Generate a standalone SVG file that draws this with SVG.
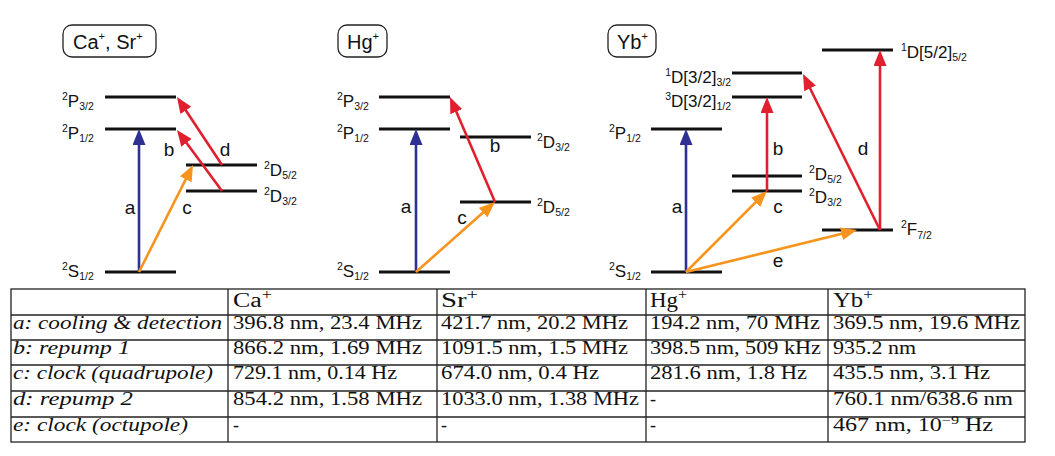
<svg xmlns="http://www.w3.org/2000/svg" width="1055" height="456" viewBox="0 0 1055 456">
<style>
.lvl{stroke:#111;stroke-width:3;fill:none}
.box{fill:none;stroke:#222;stroke-width:1.3}
.title{font-family:"Liberation Sans",Arial,sans-serif;font-size:20px;fill:#111}
.lab{font-family:"Liberation Sans",Arial,sans-serif;font-size:17px;fill:#111}
.s{font-size:10.5px}
.tr{font-family:"Liberation Sans",Arial,sans-serif;font-size:19px;fill:#111;text-anchor:middle}
.blue{stroke:#2e3192;stroke-width:2.6;fill:none;marker-end:url(#mb)}
.red{stroke:#e0202e;stroke-width:2.6;fill:none;marker-end:url(#mr)}
.org{stroke:#f7941d;stroke-width:2.6;fill:none;marker-end:url(#mo)}
.grid{stroke:#222;stroke-width:1.3;fill:none}
.tt{font-family:"Liberation Serif","Times New Roman",serif;font-size:18px;fill:#111}
.hd{font-size:20px}
.it{font-style:italic}
</style>
<defs>
<marker id="mb" viewBox="0 0 16 13" refX="11" refY="6.5" markerWidth="16" markerHeight="13" markerUnits="userSpaceOnUse" orient="auto"><path d="M0,0 L16,6.5 L0,13 z" fill="#2e3192"/></marker>
<marker id="mr" viewBox="0 0 16 13" refX="11" refY="6.5" markerWidth="16" markerHeight="13" markerUnits="userSpaceOnUse" orient="auto"><path d="M0,0 L16,6.5 L0,13 z" fill="#e0202e"/></marker>
<marker id="mo" viewBox="0 0 16 13" refX="11" refY="6.5" markerWidth="16" markerHeight="13" markerUnits="userSpaceOnUse" orient="auto"><path d="M0,0 L16,6.5 L0,13 z" fill="#f7941d"/></marker>
</defs>
<rect width="1055" height="456" fill="#fff"/>

<!-- Ca+, Sr+ -->
<g id="ca-title"><rect class="box" x="63" y="25" width="93" height="32" rx="9"/><text class="title" x="73" y="49">Ca<tspan font-size="11" dy="-9">+</tspan><tspan dy="9">, Sr</tspan><tspan font-size="11" dy="-9">+</tspan></text></g>
<g id="ca-P32"><line class="lvl" x1="105" y1="97" x2="176" y2="97"/><text class="lab" x="62" y="107"><tspan class="s" dy="-7">2</tspan><tspan dy="7">P</tspan><tspan class="s" dy="3">3/2</tspan></text></g>
<g id="ca-P12"><line class="lvl" x1="105" y1="129" x2="176" y2="129"/><text class="lab" x="62" y="139"><tspan class="s" dy="-7">2</tspan><tspan dy="7">P</tspan><tspan class="s" dy="3">1/2</tspan></text></g>
<g id="ca-D52"><line class="lvl" x1="186" y1="165" x2="257" y2="165"/><text class="lab" x="264" y="176"><tspan class="s" dy="-7">2</tspan><tspan dy="7">D</tspan><tspan class="s" dy="3">5/2</tspan></text></g>
<g id="ca-D32"><line class="lvl" x1="186" y1="191" x2="257" y2="191"/><text class="lab" x="264" y="202"><tspan class="s" dy="-7">2</tspan><tspan dy="7">D</tspan><tspan class="s" dy="3">3/2</tspan></text></g>
<g id="ca-S12"><line class="lvl" x1="105" y1="272" x2="176" y2="272"/><text class="lab" x="62" y="277"><tspan class="s" dy="-7">2</tspan><tspan dy="7">S</tspan><tspan class="s" dy="3">1/2</tspan></text></g>

<!-- Hg+ -->
<g id="hg-title"><rect class="box" x="338" y="25" width="49" height="32" rx="9"/><text class="title" x="347" y="49">Hg<tspan font-size="11" dy="-9">+</tspan></text></g>
<g id="hg-P32"><line class="lvl" x1="379" y1="97" x2="450" y2="97"/><text class="lab" x="337" y="107"><tspan class="s" dy="-7">2</tspan><tspan dy="7">P</tspan><tspan class="s" dy="3">3/2</tspan></text></g>
<g id="hg-P12"><line class="lvl" x1="379" y1="129" x2="450" y2="129"/><text class="lab" x="337" y="139"><tspan class="s" dy="-7">2</tspan><tspan dy="7">P</tspan><tspan class="s" dy="3">1/2</tspan></text></g>
<g id="hg-D32"><line class="lvl" x1="460" y1="137" x2="531" y2="137"/><text class="lab" x="537" y="148"><tspan class="s" dy="-7">2</tspan><tspan dy="7">D</tspan><tspan class="s" dy="3">3/2</tspan></text></g>
<g id="hg-D52"><line class="lvl" x1="460" y1="202" x2="531" y2="202"/><text class="lab" x="537" y="213"><tspan class="s" dy="-7">2</tspan><tspan dy="7">D</tspan><tspan class="s" dy="3">5/2</tspan></text></g>
<g id="hg-S12"><line class="lvl" x1="379" y1="272" x2="450" y2="272"/><text class="lab" x="337" y="277"><tspan class="s" dy="-7">2</tspan><tspan dy="7">S</tspan><tspan class="s" dy="3">1/2</tspan></text></g>

<!-- Yb+ -->
<g id="yb-title"><rect class="box" x="608" y="25" width="48" height="32" rx="9"/><text class="title" x="617" y="49">Yb<tspan font-size="11" dy="-9">+</tspan></text></g>
<g id="yb-P12"><line class="lvl" x1="651" y1="129" x2="722" y2="129"/><text class="lab" x="609" y="139"><tspan class="s" dy="-7">2</tspan><tspan dy="7">P</tspan><tspan class="s" dy="3">1/2</tspan></text></g>
<g id="yb-S12"><line class="lvl" x1="651" y1="272" x2="722" y2="272"/><text class="lab" x="609" y="277"><tspan class="s" dy="-7">2</tspan><tspan dy="7">S</tspan><tspan class="s" dy="3">1/2</tspan></text></g>
<g id="yb-1D32"><line class="lvl" x1="732" y1="73" x2="802" y2="73"/><text class="lab" x="731" y="83" text-anchor="end"><tspan class="s" dy="-7">1</tspan><tspan dy="7">D[3/2]</tspan><tspan class="s" dy="3">3/2</tspan></text></g>
<g id="yb-3D32"><line class="lvl" x1="732" y1="97" x2="802" y2="97"/><text class="lab" x="731" y="107" text-anchor="end"><tspan class="s" dy="-7">3</tspan><tspan dy="7">D[3/2]</tspan><tspan class="s" dy="3">1/2</tspan></text></g>
<g id="yb-D52"><line class="lvl" x1="732" y1="176" x2="802" y2="176"/><text class="lab" x="809" y="180"><tspan class="s" dy="-7">2</tspan><tspan dy="7">D</tspan><tspan class="s" dy="3">5/2</tspan></text></g>
<g id="yb-D32"><line class="lvl" x1="732" y1="191" x2="802" y2="191"/><text class="lab" x="809" y="203"><tspan class="s" dy="-7">2</tspan><tspan dy="7">D</tspan><tspan class="s" dy="3">3/2</tspan></text></g>
<g id="yb-F72"><line class="lvl" x1="822" y1="230" x2="893" y2="230"/><text class="lab" x="901" y="235"><tspan class="s" dy="-7">2</tspan><tspan dy="7">F</tspan><tspan class="s" dy="4">7/2</tspan></text></g>
<g id="yb-1D52"><line class="lvl" x1="822" y1="50" x2="893" y2="50"/><text class="lab" x="901" y="58"><tspan class="s" dy="-7">1</tspan><tspan dy="7">D[5/2]</tspan><tspan class="s" dy="3">5/2</tspan></text></g>

<!-- connectors -->
<g id="connectors">
<line class="blue" x1="139" y1="272" x2="139" y2="134"/>
<line class="org" x1="139" y1="272" x2="190.75" y2="169.46"/>
<line class="red" x1="222" y1="191" x2="179.97" y2="134.02"/>
<line class="red" x1="222" y1="165" x2="179.76" y2="101.17"/>
<text class="tr" x="130" y="214">a</text>
<text class="tr" x="169" y="156">b</text>
<text class="tr" x="187" y="214">c</text>
<text class="tr" x="225" y="156">d</text>

<line class="blue" x1="416" y1="272" x2="416" y2="134"/>
<line class="org" x1="416" y1="272" x2="491.26" y2="205.31"/>
<line class="red" x1="495" y1="202" x2="451.97" y2="101.6"/>
<text class="tr" x="406" y="213">a</text>
<text class="tr" x="462" y="224">c</text>
<text class="tr" x="495" y="152">b</text>

<line class="blue" x1="686" y1="272" x2="686" y2="134"/>
<line class="org" x1="686" y1="272" x2="763.46" y2="194.54"/>
<line class="org" x1="686" y1="272" x2="852.15" y2="231.19"/>
<line class="red" x1="767" y1="191" x2="767" y2="102"/>
<line class="red" x1="880" y1="230" x2="805.21" y2="78.48"/>
<line class="red" x1="880" y1="230" x2="880" y2="55"/>
<text class="tr" x="677" y="213">a</text>
<text class="tr" x="778" y="155">b</text>
<text class="tr" x="778" y="213">c</text>
<text class="tr" x="863" y="155">d</text>
<text class="tr" x="778" y="267">e</text>
</g>

<!-- table -->
<g id="table">
<rect class="grid" x="11" y="289" width="1014" height="153"/>
<line class="grid" x1="11" y1="315" x2="1025" y2="315"/>
<line class="grid" x1="11" y1="340" x2="1025" y2="340"/>
<line class="grid" x1="11" y1="365" x2="1025" y2="365"/>
<line class="grid" x1="11" y1="391" x2="1025" y2="391"/>
<line class="grid" x1="11" y1="417" x2="1025" y2="417"/>
<line class="grid" x1="228" y1="289" x2="228" y2="442"/>
<line class="grid" x1="437" y1="289" x2="437" y2="442"/>
<line class="grid" x1="646" y1="289" x2="646" y2="442"/>
<line class="grid" x1="828" y1="289" x2="828" y2="442"/>

<text class="tt hd" x="233" y="307" textLength="39" lengthAdjust="spacingAndGlyphs">Ca<tspan font-size="14" dy="-8">+</tspan></text>
<text class="tt hd" x="441" y="307" textLength="37" lengthAdjust="spacingAndGlyphs">Sr<tspan font-size="14" dy="-8">+</tspan></text>
<text class="tt hd" x="650" y="307" textLength="37" lengthAdjust="spacingAndGlyphs">Hg<tspan font-size="14" dy="-8">+</tspan></text>
<text class="tt hd" x="833" y="307" textLength="40" lengthAdjust="spacingAndGlyphs">Yb<tspan font-size="14" dy="-8">+</tspan></text>

<text class="tt it" x="13" y="329" textLength="209" lengthAdjust="spacingAndGlyphs">a: cooling &amp; detection</text>
<text class="tt it" x="13" y="354" textLength="117" lengthAdjust="spacingAndGlyphs">b: repump 1</text>
<text class="tt it" x="13" y="379" textLength="200" lengthAdjust="spacingAndGlyphs">c: clock (quadrupole)</text>
<text class="tt it" x="13" y="405" textLength="120" lengthAdjust="spacingAndGlyphs">d: repump 2</text>
<text class="tt it" x="13" y="431" textLength="175" lengthAdjust="spacingAndGlyphs">e: clock (octupole)</text>

<text class="tt" x="233" y="329" textLength="189" lengthAdjust="spacingAndGlyphs">396.8 nm, 23.4 MHz</text>
<text class="tt" x="233" y="354" textLength="189" lengthAdjust="spacingAndGlyphs">866.2 nm, 1.69 MHz</text>
<text class="tt" x="233" y="379" textLength="164" lengthAdjust="spacingAndGlyphs">729.1 nm, 0.14 Hz</text>
<text class="tt" x="233" y="405" textLength="189" lengthAdjust="spacingAndGlyphs">854.2 nm, 1.58 MHz</text>
<text class="tt" x="233" y="431">-</text>

<text class="tt" x="441" y="329" textLength="187" lengthAdjust="spacingAndGlyphs">421.7 nm, 20.2 MHz</text>
<text class="tt" x="441" y="354" textLength="187" lengthAdjust="spacingAndGlyphs">1091.5 nm, 1.5 MHz</text>
<text class="tt" x="441" y="379" textLength="158" lengthAdjust="spacingAndGlyphs">674.0 nm, 0.4 Hz</text>
<text class="tt" x="441" y="405" textLength="198" lengthAdjust="spacingAndGlyphs">1033.0 nm, 1.38 MHz</text>
<text class="tt" x="441" y="431">-</text>

<text class="tt" x="650" y="329" textLength="170" lengthAdjust="spacingAndGlyphs">194.2 nm, 70 MHz</text>
<text class="tt" x="650" y="354" textLength="171" lengthAdjust="spacingAndGlyphs">398.5 nm, 509 kHz</text>
<text class="tt" x="650" y="379" textLength="157" lengthAdjust="spacingAndGlyphs">281.6 nm, 1.8 Hz</text>
<text class="tt" x="650" y="405">-</text>
<text class="tt" x="650" y="431">-</text>

<text class="tt" x="833" y="329" textLength="187" lengthAdjust="spacingAndGlyphs">369.5 nm, 19.6 MHz</text>
<text class="tt" x="833" y="354" textLength="83" lengthAdjust="spacingAndGlyphs">935.2 nm</text>
<text class="tt" x="833" y="379" textLength="157" lengthAdjust="spacingAndGlyphs">435.5 nm, 3.1 Hz</text>
<text class="tt" x="833" y="405" textLength="180" lengthAdjust="spacingAndGlyphs">760.1 nm/638.6 nm</text>
<text class="tt" x="833" y="431" textLength="160" lengthAdjust="spacingAndGlyphs">467 nm, 10<tspan font-size="12" dy="-7">−9</tspan><tspan dy="7"> Hz</tspan></text>
</g>
</svg>
